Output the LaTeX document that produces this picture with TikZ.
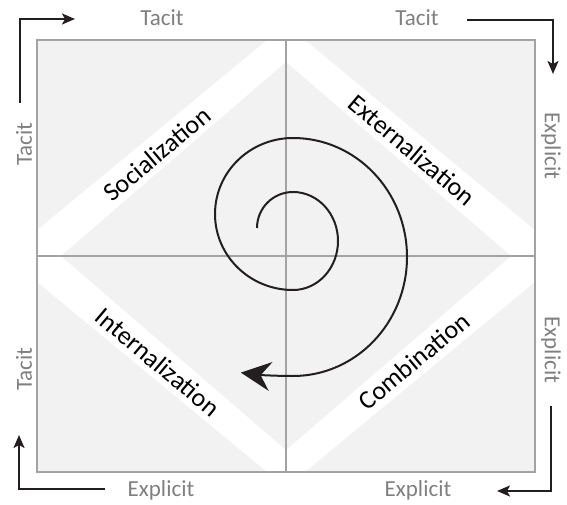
\documentclass[tikz,border=0pt]{standalone}
\usepackage{fontspec}
\setmainfont{Carlito}
\usetikzlibrary{arrows.meta}
\definecolor{cfond}{RGB}{242,242,242}
\definecolor{cgrille}{RGB}{163,163,163}
\definecolor{caxe}{RGB}{128,128,128}
\definecolor{cnoir}{RGB}{35,31,32}

\begin{document}
\begin{tikzpicture}[x=1pt, y=-1pt, >={Stealth[length=13pt,width=11pt,inset=3pt]},
  axe/.style={text=caxe, font=\fontsize{23}{23}\selectfont},
  mode/.style={font=\fontsize{26}{26}\selectfont},
  coin/.style={cnoir, line width=2pt, ->}]
\useasboundingbox (0,0) rectangle (567,505);
% grey corners and centre diamond
\fill[cfond] (37,40) -- (267,40) -- (37,230) -- cycle;
\fill[cfond] (535,40) -- (305,40) -- (535,230) -- cycle;
\fill[cfond] (37,472) -- (267,472) -- (37,282) -- cycle;
\fill[cfond] (535,472) -- (305,472) -- (535,282) -- cycle;
\fill[cfond] (61,256) -- (286,62) -- (511,256) -- (286,450) -- cycle;
\draw[cgrille, line width=2pt] (37,40) rectangle (535,472);
\draw[cgrille, line width=2pt] (286,40) -- (286,472) (37,256) -- (535,256);
% the four modes
\node[mode, rotate=40] (soc) at (157,154) {Socialization};
\node[mode, rotate=-40] (ext) at (412,150) {Externalization};
\node[mode, rotate=-40] (int) at (158,362) {Internalization};
\node[mode, rotate=40] (comb) at (414,361) {Combination};
% spiral
\coordinate (debut) at (257,228);
\draw[cnoir, line width=2pt, -{Stealth[length=30pt,width=29pt,inset=10pt]}] (debut)
  arc[start angle=180, end angle=270, radius=36]
  arc[start angle=270, end angle=450, x radius=45, y radius=49]
  arc[start angle=90, end angle=270, x radius=78, y radius=76]
  arc[start angle=270, end angle=450, x radius=114, y radius=119]
  arc[start angle=90, end angle=97.5, radius=400];
% axes
\node[axe] (th1) at (162,18) {Tacit};
\node[axe] (th2) at (417,18) {Tacit};
\node[axe] (eb1) at (161,490) {Explicit};
\node[axe] (eb2) at (418,490) {Explicit};
\node[axe, rotate=90] (tg1) at (24,144) {Tacit};
\node[axe, rotate=90] (tg2) at (24,369) {Tacit};
\node[axe, rotate=-90] (ed1) at (551,146) {Explicit};
\node[axe, rotate=-90] (ed2) at (551,350) {Explicit};
% corner arrows
\coordinate (c1a) at (20,103); \coordinate (c1b) at (75,19);
\coordinate (c2a) at (467,20); \coordinate (c2b) at (553,74);
\coordinate (c3a) at (551,406); \coordinate (c3b) at (497,491);
\coordinate (c4a) at (105,489); \coordinate (c4b) at (19,435);
\draw[coin] (c1a) |- (c1b);
\draw[coin] (c2a) -| (c2b);
\draw[coin] (c3a) |- (c3b);
\draw[coin] (c4a) -| (c4b);
\end{tikzpicture}
\end{document}
